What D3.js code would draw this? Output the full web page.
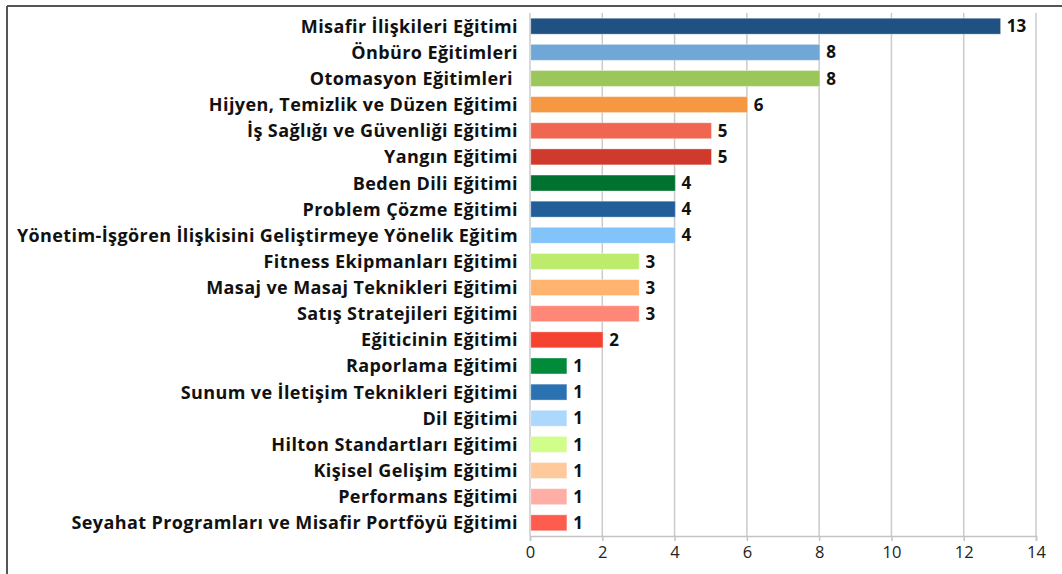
<!DOCTYPE html>
<html>
<head>
<meta charset="utf-8">
<script src="https://cdn.jsdelivr.net/npm/d3@7"></script>
<style>
  body { margin: 0; background: #fff; }
  text { font-family: "Open Sans", "Noto Sans", sans-serif; }
</style>
</head>
<body>
<div id="graph_draw"></div>
<script>
// categories, values and bar colours
var categories = [
  "Misafir İlişkileri Eğitimi",
  "Önbüro Eğitimleri",
  "Otomasyon Eğitimleri ",
  "Hijyen, Temizlik ve Düzen Eğitimi",
  "İş Sağlığı ve Güvenliği Eğitimi",
  "Yangın Eğitimi",
  "Beden Dili Eğitimi",
  "Problem Çözme Eğitimi",
  "Yönetim-İşgören İlişkisini Geliştirmeye Yönelik Eğitim",
  "Fitness Ekipmanları Eğitimi",
  "Masaj ve Masaj Teknikleri Eğitimi",
  "Satış Stratejileri Eğitimi",
  "Eğiticinin Eğitimi",
  "Raporlama Eğitimi",
  "Sunum ve İletişim Teknikleri Eğitimi",
  "Dil Eğitimi",
  "Hilton Standartları Eğitimi",
  "Kişisel Gelişim Eğitimi",
  "Performans Eğitimi",
  "Seyahat Programları ve Misafir Portföyü Eğitimi"
];
var values = [13, 8, 8, 6, 5, 5, 4, 4, 4, 3, 3, 3, 2, 1, 1, 1, 1, 1, 1, 1];
var colors = [
  "#1f5282", "#6fa8d6", "#9bc75a", "#f59841", "#f06650",
  "#cf3a2c", "#00722f", "#225f98", "#82c4fa", "#bdec6c",
  "#ffb36e", "#ff8778", "#f44330", "#008a3a", "#2a72b2",
  "#acd8fd", "#d1fe88", "#ffc99c", "#ffaea5", "#ff5c50"
];
var xTicks = [0, 2, 4, 6, 8, 10, 12, 14];

var W = 1062, H = 574;
var margin = {top: 13, right: 26, bottom: 38, left: 530};
var width = W - margin.left - margin.right,
    height = H - margin.top - margin.bottom;

var data = categories.map(function(c, i) {
  return {name: c, value: values[i], color: colors[i]};
});

var svg = d3.select("#graph_draw").append("svg")
    .attr("width", W)
    .attr("height", H);

// outer frame (top and left edges only)
svg.append("line")
    .attr("x1", 7).attr("x2", W).attr("y1", 6).attr("y2", 6)
    .attr("stroke", "#555").attr("stroke-width", 2);
svg.append("line")
    .attr("x1", 7).attr("x2", 7).attr("y1", 6).attr("y2", H)
    .attr("stroke", "#555").attr("stroke-width", 2);

var g = svg.append("g")
    .attr("transform", "translate(" + margin.left + "," + margin.top + ")");

var x = d3.scaleLinear().domain([0, 14]).range([0, width]);
var y = d3.scaleBand().domain(categories).range([0, height]).paddingInner(0.39).paddingOuter(0.2);

// gridlines
g.selectAll(".grid")
    .data(xTicks)
    .enter().append("line")
    .attr("x1", function(d) { return x(d); })
    .attr("x2", function(d) { return x(d); })
    .attr("y1", 0)
    .attr("y2", height)
    .attr("stroke", "#cbcbcb")
    .attr("stroke-width", 1.5);

// x axis
var xAxis = g.append("g")
    .attr("transform", "translate(0," + height + ")")
    .call(d3.axisBottom(x).tickValues(xTicks).tickSize(5).tickPadding(5));
xAxis.select(".domain").attr("stroke", "#c4c4c4").attr("stroke-width", 1.5);
xAxis.selectAll(".tick line").attr("stroke", "#c4c4c4").attr("stroke-width", 1.5);
xAxis.selectAll(".tick text")
    .attr("fill", "#222")
    .style("font-size", "16.5px")
    .style("font-family", "'Open Sans', sans-serif");

// bars
g.selectAll(".bar")
    .data(data)
    .enter().append("rect")
    .attr("x", x(0) + 0.75)
    .attr("y", function(d) { return y(d.name); })
    .attr("width", function(d) { return x(d.value) - x(0); })
    .attr("height", y.bandwidth())
    .attr("fill", function(d) { return d.color; })
    .attr("stroke", "rgba(255,255,255,0.35)")
    .attr("stroke-width", 1);

// value labels
g.selectAll(".val")
    .data(data)
    .enter().append("text")
    .attr("x", function(d) { return x(d.value) + 7; })
    .attr("y", function(d) { return y(d.name) + y.bandwidth() / 2; })
    .attr("dy", "0.36em")
    .attr("fill", "#111")
    .style("font-size", "17px")
    .style("font-weight", "bold")
    .text(function(d) { return d.value; });

// category labels
g.selectAll(".cat")
    .data(data)
    .enter().append("text")
    .attr("x", -12)
    .attr("y", function(d) { return y(d.name) + y.bandwidth() / 2; })
    .attr("dy", "0.36em")
    .attr("text-anchor", "end")
    .attr("fill", "#111")
    .style("font-size", "18px")
    .style("font-weight", "bold")
    .style("letter-spacing", "0.4px")
    .style("white-space", "pre")
    .text(function(d) { return d.name; });
</script>
</body>
</html>
